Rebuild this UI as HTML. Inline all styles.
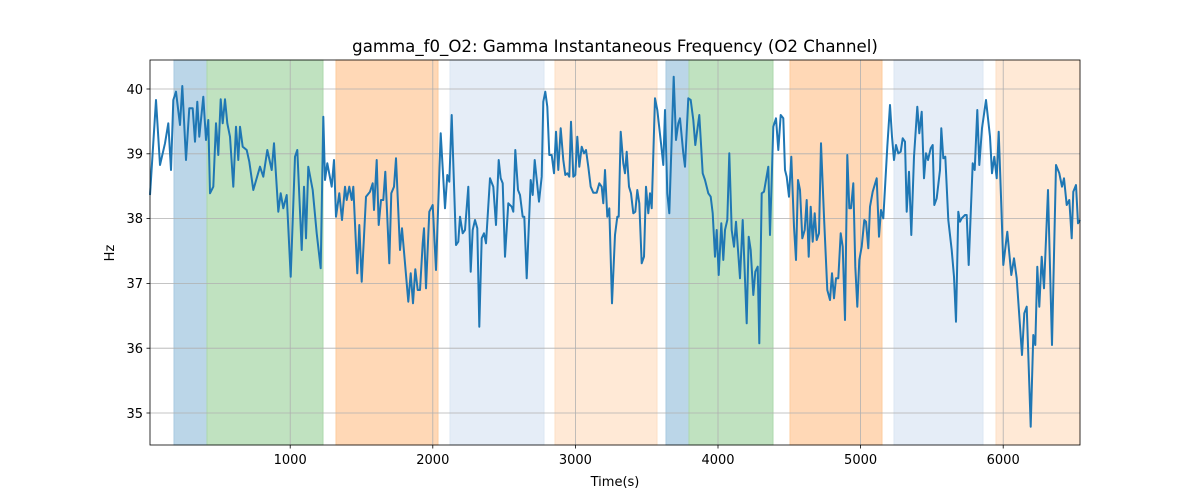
<!DOCTYPE html>
<html><head><meta charset="utf-8"><style>
html,body{margin:0;padding:0;background:#fff;}
svg{display:block;font-family:"DejaVu Sans","Liberation Sans",sans-serif;}
</style></head><body>
<svg id="s" width="1200" height="500" viewBox="0 0 1200 500" xmlns="http://www.w3.org/2000/svg">
<rect width="1200" height="500" fill="#fff"/>
<g stroke-width="1">
<rect x="174" y="60" width="33" height="385" fill="#bbd6e8" stroke="#a9cbe2"/>
<rect x="207" y="60" width="116" height="385" fill="#c0e2c0" stroke="#acd8ac"/>
<rect x="336" y="60" width="102" height="385" fill="#ffd8b6" stroke="#fdcc9f"/>
<rect x="450" y="60" width="94" height="385" fill="#e5edf7" stroke="#dce7f3"/>
<rect x="555" y="60" width="102" height="385" fill="#ffe9d6" stroke="#fde0c6"/>
<rect x="666" y="60" width="23" height="385" fill="#bbd6e8" stroke="#a9cbe2"/>
<rect x="689" y="60" width="84" height="385" fill="#c0e2c0" stroke="#acd8ac"/>
<rect x="790" y="60" width="92" height="385" fill="#ffd8b6" stroke="#fdcc9f"/>
<rect x="894" y="60" width="89" height="385" fill="#e5edf7" stroke="#dce7f3"/>
<rect x="996" y="60" width="84" height="385" fill="#ffe9d6" stroke="#fde0c6"/>
</g>
<g stroke="#b0b0b0" stroke-width="0.8">
<line x1="290.2" y1="60" x2="290.2" y2="445"/><line x1="432.8" y1="60" x2="432.8" y2="445"/>
<line x1="575.4" y1="60" x2="575.4" y2="445"/><line x1="718" y1="60" x2="718" y2="445"/>
<line x1="860.6" y1="60" x2="860.6" y2="445"/><line x1="1003.2" y1="60" x2="1003.2" y2="445"/>
<line x1="150" y1="413" x2="1080" y2="413"/><line x1="150" y1="348.2" x2="1080" y2="348.2"/>
<line x1="150" y1="283.4" x2="1080" y2="283.4"/><line x1="150" y1="218.6" x2="1080" y2="218.6"/>
<line x1="150" y1="153.8" x2="1080" y2="153.8"/><line x1="150" y1="89" x2="1080" y2="89"/>
</g>
<polyline id="pl" fill="none" stroke="#1f77b4" stroke-width="2" stroke-linejoin="round" points=""/>
<rect x="150" y="60" width="930" height="385" fill="none" stroke="#000" stroke-width="0.8"/>
<g stroke="#000" stroke-width="0.8">
<line x1="290.2" y1="445" x2="290.2" y2="448.5"/><line x1="432.8" y1="445" x2="432.8" y2="448.5"/>
<line x1="575.4" y1="445" x2="575.4" y2="448.5"/><line x1="718" y1="445" x2="718" y2="448.5"/>
<line x1="860.6" y1="445" x2="860.6" y2="448.5"/><line x1="1003.2" y1="445" x2="1003.2" y2="448.5"/>
<line x1="146.5" y1="413" x2="150" y2="413"/><line x1="146.5" y1="348.2" x2="150" y2="348.2"/>
<line x1="146.5" y1="283.4" x2="150" y2="283.4"/><line x1="146.5" y1="218.6" x2="150" y2="218.6"/>
<line x1="146.5" y1="153.8" x2="150" y2="153.8"/><line x1="146.5" y1="89" x2="150" y2="89"/>
</g>
<g font-size="13" fill="#000" text-anchor="middle">
<text x="290.2" y="464">1000</text><text x="432.8" y="464">2000</text><text x="575.4" y="464">3000</text>
<text x="718" y="464">4000</text><text x="860.6" y="464">5000</text><text x="1003.2" y="464">6000</text>
</g>
<g font-size="13" fill="#000" text-anchor="end">
<text x="143" y="418">35</text><text x="143" y="353">36</text><text x="143" y="288">37</text>
<text x="143" y="223">38</text><text x="143" y="158.5">39</text><text x="143" y="94">40</text>
</g>
<text x="615" y="486" font-size="13" text-anchor="middle">Time(s)</text>
<text x="114" y="253" font-size="13" text-anchor="middle" transform="rotate(-90 114 253)">Hz</text>
<text x="615" y="52" font-size="16.6" text-anchor="middle">gamma_f0_O2: Gamma Instantaneous Frequency (O2 Channel)</text>
</svg>
<script>
var z1=[[0,405],[18,120],[30,315],[45,250],[55,190],[63,330],[70,120],[78,95],[90,195],[97,78],[108,300],[118,145],[128,145],[135,245],[142,125],[148,230],[160,110],[168,240],[175,180],[180,400],[190,380],[198,190],[205,285],[212,118],[218,190],[225,118],[232,190],[240,230],[250,380],[258,200],[265,300],[270,200],[278,260],[290,270],[298,305],[310,390],[330,320],[340,350],[352,270],[365,330],[372,250],[385,455],[392,400],[400,445],[410,405],[422,650],[435,290],[442,270],[455,570],[462,380],[468,535],[475,320],[488,390],[500,520],[512,625],[520,170],[525,360],[532,310],[545,380],[552,300],[558,470],[568,400],[576,480],[585,380],[590,420],[598,380],[605,420],[610,380],[622,640],[628,495],[635,665],[648,410],[660,395],[668,370],[672,450],[680,300],[686,495],[693,420],[700,420],[706,335],[718,610],[724,400],[732,380],[738,295],[750,570],[756,505],[775,725],[782,640],[789,730],[796,628],[803,690],[810,690],[818,550],[822,505],[828,685],[838,455],[848,435],[858,630],[872,220],[885,445],[892,345],[898,365],[905,165],[918,555],[925,545]];
var z2=[[0,470],[8,520],[15,510],[25,380],[32,635],[38,510],[45,480],[52,505],[58,800],[65,535],[72,520],[78,550],[90,355],[100,380],[108,495],[116,300],[122,355],[128,370],[135,590],[145,430],[155,440],[160,455],[166,270],[174,390],[180,405],[188,470],[193,470],[200,655],[212,360],[218,405],[224,300],[237,425],[245,350],[250,125],[256,95],[262,140],[268,285],[275,285],[282,340],[288,215],[295,330],[302,205],[310,300],[316,345],[322,340],[328,350],[333,185],[340,350],[346,345],[352,230],[358,320],[365,260],[372,280],[378,270],[385,320],[392,380],[400,398],[410,398],[418,370],[425,380],[430,430],[435,330],[442,470],[448,445],[456,730],[465,525],[472,470],[476,470],[482,215],[490,310],[495,340],[500,275],[507,380],[513,400],[520,460],[526,455],[532,390],[538,430],[545,610],[552,590],[558,380],[565,460],[570,400],[575,445],[585,115],[592,150],[603,250],[610,315],[615,150],[622,400],[628,460],[641,50],[648,240],[655,190],[660,175],[670,280],[675,320],[685,115],[692,120],[700,180],[706,255],[718,165],[728,340],[735,360],[745,400],[752,410],[758,460],[765,590],[770,510],[776,645],[784,490],[790,600],[795,510],[802,480],[808,280],[815,510],[822,560],[828,485],[840,655],[848,480],[860,790],[866,530],[872,570],[880,705],[886,635],[893,620],[898,850],[905,400],[912,395],[925,320],[930,525]];
var z3=[[10,200],[18,175],[25,270],[32,165],[40,175],[45,330],[50,350],[57,410],[64,290],[72,500],[78,600],[84,360],[90,390],[97,535],[104,510],[110,420],[116,590],[122,440],[128,545],[134,460],[140,540],[147,520],[153,250],[162,470],[172,690],[180,720],[186,640],[192,715],[198,655],[205,655],[212,520],[218,560],[225,780],[232,285],[238,445],[243,445],[250,370],[256,620],[262,740],[268,600],[275,560],[283,480],[288,485],[295,565],[300,440],[308,395],[320,355],[327,530],[333,450],[340,475],[352,260],[360,135],[366,230],[372,300],[378,255],[385,280],[392,275],[398,235],[405,245],[410,455],[417,335],[424,525],[432,290],[442,140],[448,220],[455,155],[462,355],[468,280],[474,300],[482,265],[488,255],[493,435],[500,415],[510,330],[514,205],[520,295],[526,290],[535,480],[545,570],[552,650],[558,785],[565,455],[570,485],[575,475],[585,465],[590,465],[596,615],[608,310],[614,330],[622,150],[628,315],[636,205],[648,120],[660,230],[666,340],[673,290],[680,355],[686,215],[693,410],[700,615],[712,515],[724,645],[732,595],[740,655],[756,885],[763,760],[770,740],[782,1100],[790,825],[796,855],[802,620],[808,740],[815,590],[822,685],[834,390],[846,855],[858,315],[868,340],[876,380],[882,355],[890,435],[898,420],[905,535],[910,395],[918,375],[924,490],[930,480]];
var pts=[];
function add(a,ox,oy){a.forEach(function(p){pts.push((ox+p[0]/3).toFixed(1)+","+(oy+p[1]/3).toFixed(1));});}
add(z1,150,60);add(z2,460,60);add(z3,770,60);
document.getElementById("pl").setAttribute("points",pts.join(" "));
</script>
</body></html>
